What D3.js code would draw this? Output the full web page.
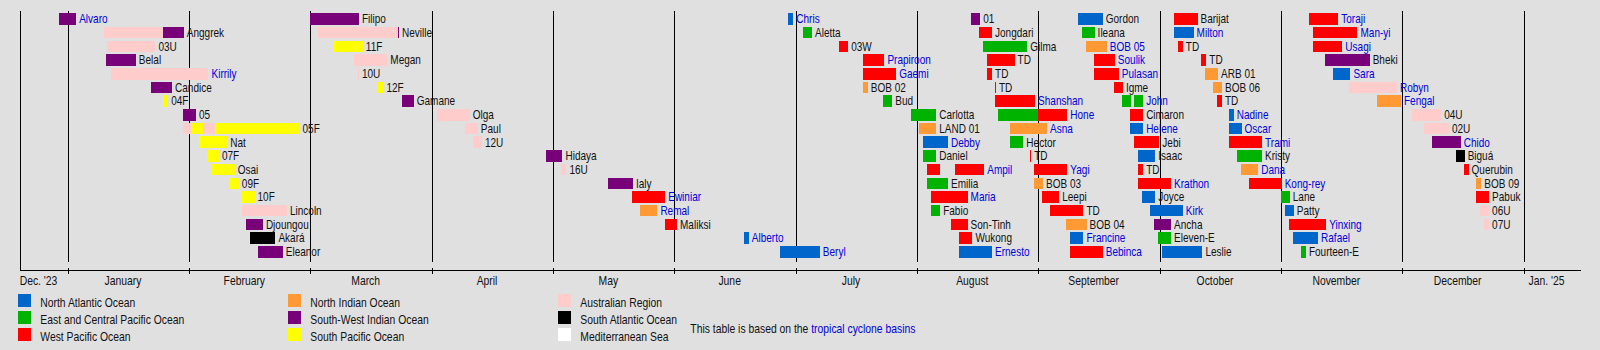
<!DOCTYPE html>
<html><head><meta charset="utf-8">
<script src="https://cdn.jsdelivr.net/npm/d3@7"></script>
<style>
html,body{margin:0;padding:0;background:#e0e0e0;}
svg{display:block;}
text{font-family:"Liberation Sans",Arial,Helvetica,sans-serif;}
</style></head><body>
<svg id="chart" width="1600" height="350"></svg>
<script>
// ---------------- data ----------------
const monthLabels = ["Dec. '23","January","February","March","April","May","June","July","August","September","October","November","December","Jan. '25"];
const periodStart = "2023-12-19 20";
const periodEnd = "2025-01-15 10";

const basinCodes = ["NA","EP","WP","NI","SWI","SP","AU","SA","MED"];
const basinNames = ["North Atlantic Ocean","East and Central Pacific Ocean","West Pacific Ocean","North Indian Ocean","South-West Indian Ocean","South Pacific Ocean","Australian Region","South Atlantic Ocean","Mediterranean Sea"];

const stormNames = [
"Alvaro","Anggrek","03U","Belal","Kirrily","Candice","04F","05","05F","Nat","07F","Osai","09F","10F","Lincoln","Djoungou","Akará","Eleanor",
"Filipo","Neville","11F","Megan","10U","12F","Gamane","Olga","Paul","12U","Hidaya","16U","Ialy","Ewiniar","Remal","Maliksi","Alberto","Beryl",
"Chris","Aletta","03W","Prapiroon","Gaemi","BOB 02","Bud","Carlotta","LAND 01","Debby","Daniel","Ampil","Emilia","Maria","Fabio","Son-Tinh","Wukong","Ernesto",
"01","Jongdari","Gilma","TD","TD","TD","Shanshan","Hone","Asna","Hector","TD","Yagi","BOB 03","Leepi","TD","BOB 04","Francine","Bebinca",
"Gordon","Ileana","BOB 05","Soulik","Pulasan","Igme","John","Cimaron","Helene","Jebi","Isaac","TD","Krathon","Joyce","Kirk","Ancha","Eleven-E","Leslie",
"Barijat","Milton","TD","TD","ARB 01","BOB 06","TD","Nadine","Oscar","Trami","Kristy","Dana","Kong-rey","Lane","Patty","Yinxing","Rafael","Fourteen-E",
"Toraji","Man-yi","Usagi","Bheki","Sara","Robyn","Fengal","04U","02U","Chido","Biguá","Querubin","BOB 09","Pabuk","06U","07U"];

// one list of [basin, from, till] segments per storm, same order as stormNames
const stormTracks = [
[["SWI","2023-12-29 12","2024-01-03"]],
[["AU","2024-01-10","2024-01-25 06"],["SWI","2024-01-25 06","2024-01-30 12"]],
[["AU","2024-01-11","2024-01-23 06"]],
[["SWI","2024-01-10 18","2024-01-18 06"]],
[["AU","2024-01-12","2024-02-05 12"]],
[["SWI","2024-01-22","2024-01-27 12"]],
[["SP","2024-01-25 06","2024-01-26 12"]],
[["SWI","2024-01-30 06","2024-02-02 12"]],
[["AU","2024-01-30 06","2024-02-01 06"],["SP","2024-02-01 06","2024-02-04 06"],["AU","2024-02-04 06","2024-02-07"],["SP","2024-02-07","2024-02-27 06"]],
[["SP","2024-02-03 06","2024-02-10"]],
[["SP","2024-02-05 06","2024-02-08"]],
[["SP","2024-02-06 06","2024-02-11 18"]],
[["SP","2024-02-10 18","2024-02-12 18"]],
[["SP","2024-02-13 12","2024-02-16 12"]],
[["AU","2024-02-13 12","2024-02-24 06"]],
[["SWI","2024-02-14 12","2024-02-18 12"]],
[["SA","2024-02-15 12","2024-02-21 12"]],
[["SWI","2024-02-17 06","2024-02-23 06"]],

[["SWI","2024-02-29 18","2024-03-13 06"]],
[["AU","2024-03-02 18","2024-03-23 06"],["SWI","2024-03-23 06","2024-03-23 12"]],
[["SP","2024-03-07","2024-03-14 06"]],
[["AU","2024-03-12","2024-03-20 12"]],
[["AU","2024-03-13","2024-03-13 06"]],
[["SP","2024-03-18","2024-03-19 12"]],
[["SWI","2024-03-24 06","2024-03-27 06"]],
[["AU","2024-04-02 06","2024-04-10 06"]],
[["AU","2024-04-09","2024-04-12 06"]],
[["AU","2024-04-11","2024-04-13 06"]],
[["SWI","2024-04-29","2024-05-03 06"]],
[["AU","2024-05-02 18","2024-05-04 06"]],
[["SWI","2024-05-15","2024-05-21 06"]],
[["WP","2024-05-21","2024-05-29 12"]],
[["NI","2024-05-23","2024-05-27 12"]],
[["WP","2024-05-29 12","2024-06-01 12"]],
[["NA","2024-06-18","2024-06-19 06"]],
[["NA","2024-06-27","2024-07-07"]],

[["NA","2024-06-29","2024-06-30 06"]],
[["EP","2024-07-02 18","2024-07-05"]],
[["WP","2024-07-12","2024-07-14 06"]],
[["WP","2024-07-18","2024-07-23 12"]],
[["WP","2024-07-18","2024-07-26 12"]],
[["NI","2024-07-18","2024-07-19 06"]],
[["EP","2024-07-23 06","2024-07-25 12"]],
[["EP","2024-07-30 06","2024-08-05 18"]],
[["NI","2024-08-01 06","2024-08-05 18"]],
[["NA","2024-08-02 06","2024-08-08 18"]],
[["EP","2024-08-02 06","2024-08-05 18"]],
[["WP","2024-08-03 12","2024-08-06 18"],["WP","2024-08-10 12","2024-08-18"]],
[["EP","2024-08-03 12","2024-08-08 18"]],
[["WP","2024-08-04 12","2024-08-13 18"]],
[["EP","2024-08-04 12","2024-08-06 18"]],
[["WP","2024-08-09 12","2024-08-13 18"]],
[["WP","2024-08-11 12","2024-08-15"]],
[["NA","2024-08-11 12","2024-08-20"]],

[["SWI","2024-08-14 18","2024-08-17"]],
[["WP","2024-08-16 18","2024-08-20"]],
[["EP","2024-08-17 18","2024-08-29"]],
[["WP","2024-08-18 18","2024-08-25 18"]],
[["WP","2024-08-18 18","2024-08-20"]],
[["WP","2024-08-20 18","2024-08-21"]],
[["WP","2024-08-20 18","2024-08-31"]],
[["EP","2024-08-21 12","2024-08-31 18"],["WP","2024-08-31 18","2024-09-08"]],
[["NI","2024-08-24 12","2024-09-03"]],
[["EP","2024-08-24 12","2024-08-28"]],
[["WP","2024-08-29 18","2024-08-30"]],
[["WP","2024-08-30 18","2024-09-08"]],
[["NI","2024-08-30 18","2024-09-02"]],
[["WP","2024-09-01 18","2024-09-06"]],
[["WP","2024-09-03 18","2024-09-12"]],
[["NI","2024-09-07 18","2024-09-12 18"]],
[["NA","2024-09-08 18","2024-09-12"]],
[["WP","2024-09-08 18","2024-09-16 18"]],

[["NA","2024-09-10 18","2024-09-16 18"]],
[["EP","2024-09-11 18","2024-09-14 18"]],
[["NI","2024-09-12 12","2024-09-17 18"]],
[["WP","2024-09-14 12","2024-09-19 18"]],
[["WP","2024-09-14 12","2024-09-20 18"]],
[["WP","2024-09-19 12","2024-09-21 18"]],
[["EP","2024-09-21 12","2024-09-23 18"],["EP","2024-09-24 12","2024-09-26 18"]],
[["WP","2024-09-23 12","2024-09-26 18"]],
[["NA","2024-09-23 12","2024-09-26 18"]],
[["WP","2024-09-24 12","2024-09-30 18"]],
[["NA","2024-09-25 12","2024-09-29 18"]],
[["WP","2024-09-25 12","2024-09-26 18"]],
[["WP","2024-09-25 12","2024-10-03 18"]],
[["NA","2024-09-26 12","2024-09-29 18"]],
[["NA","2024-09-28 12","2024-10-06 18"]],
[["SWI","2024-09-29 12","2024-10-03 18"]],
[["EP","2024-09-30 12","2024-10-03 18"]],
[["NA","2024-10-01 12","2024-10-11 18"]],

[["WP","2024-10-04 12","2024-10-10 12"]],
[["NA","2024-10-04 12","2024-10-09 12"]],
[["WP","2024-10-05 12","2024-10-06 18"]],
[["WP","2024-10-11 12","2024-10-12 18"]],
[["NI","2024-10-12 12","2024-10-15 18"]],
[["NI","2024-10-14 12","2024-10-16 18"]],
[["WP","2024-10-15 12","2024-10-16 18"]],
[["NA","2024-10-18 12","2024-10-19 18"]],
[["NA","2024-10-18 12","2024-10-21 18"]],
[["WP","2024-10-18 12","2024-10-27"]],
[["EP","2024-10-20 12","2024-10-27"]],
[["NI","2024-10-21 12","2024-10-26"]],
[["WP","2024-10-23 18","2024-11-01"]],
[["EP","2024-10-31 18","2024-11-03"]],
[["NA","2024-11-01 18","2024-11-04"]],
[["WP","2024-11-02 18","2024-11-12"]],
[["NA","2024-11-03 18","2024-11-10"]],
[["EP","2024-11-05 18","2024-11-07"]],

[["WP","2024-11-07 18","2024-11-15"]],
[["WP","2024-11-08 18","2024-11-19 18"]],
[["WP","2024-11-08 18","2024-11-16"]],
[["SWI","2024-11-11 18","2024-11-22 18"]],
[["NA","2024-11-13 18","2024-11-18"]],
[["AU","2024-11-17 18","2024-11-29 12"]],
[["NI","2024-11-24 12","2024-11-30 12"]],
[["AU","2024-12-03 06","2024-12-10 18"]],
[["AU","2024-12-06 06","2024-12-12 18"]],
[["SWI","2024-12-08 12","2024-12-15 18"]],
[["SA","2024-12-14 12","2024-12-16 18"]],
[["WP","2024-12-16 12","2024-12-17 18"]],
[["NI","2024-12-19 18","2024-12-21"]],
[["WP","2024-12-19 18","2024-12-23"]],
[["AU","2024-12-20 18","2024-12-23"]],
[["AU","2024-12-21 18","2024-12-23"]]
];

const linkedStorms = ["Alvaro","Kirrily","Ewiniar","Remal","Alberto","Beryl","Chris","Prapiroon","Gaemi","Debby","Ampil","Maria","Ernesto",
"Shanshan","Hone","Asna","Yagi","Francine","Bebinca","BOB 05","Soulik","Pulasan","John","Helene","Krathon","Kirk",
"Milton","Nadine","Oscar","Trami","Dana","Kong-rey","Yinxing","Rafael","Toraji","Man-yi","Usagi","Sara","Robyn","Fengal","Chido"];

const noteText = "This table is based on the ";
const noteLink = "tropical cyclone basins";

// ---------------- style / layout ----------------
const basinColors = {NA:"#0066cc",EP:"#00b300",WP:"#ff0000",NI:"#ff9933",SWI:"#780078",SP:"#ffff00",AU:"#ffcccc",SA:"#000000",MED:"#ffffff"};
const linkColor = "#0000dd";
const textColor = "#111";
const rowsPerColumn = 18;
const monthWidth = 121.333;
const firstMonthLeft = -53.0;
const labelSize = 12, labelScale = 0.835;
const axisSize = 12.5, axisScale = 0.83;

const parseDay = d3.utcParse("%Y-%m-%d");
const parseHour = d3.utcParse("%Y-%m-%d %H");
const parse = s => s.length > 10 ? parseHour(s) : parseDay(s);

const svg = d3.select("#chart");
svg.append("rect").attr("width",1600).attr("height",350).attr("fill","#e0e0e0");

const monthStarts = d3.utcMonth.range(new Date(Date.UTC(2023,11,1)), new Date(Date.UTC(2025,1,2)));
const x = d3.scaleTime()
  .domain(monthStarts)
  .range(monthStarts.map((d,i) => firstMonthLeft + i*monthWidth));

const pStart = parse(periodStart), pEnd = parse(periodEnd);
const xLeft = x(pStart), xRight = x(pEnd);

const y = d3.scaleBand().domain(d3.range(rowsPerColumn))
  .range([12.2, 258.6]).paddingInner(0.16).paddingOuter(0.08);

const axisY = 270.5;
const gridTop = 11, gridBottom = 262;
const crisp = v => Math.floor(v) + 0.5;

// grid lines
const gridMonths = monthStarts.filter(d => d > pStart && d < pEnd);
const grid = svg.append("g").attr("stroke","#000").attr("stroke-width",1).attr("shape-rendering","crispEdges");
grid.selectAll("line.g").data(gridMonths).join("line").attr("class","g")
  .attr("x1", d => crisp(x(d))).attr("x2", d => crisp(x(d)))
  .attr("y1", gridTop).attr("y2", gridBottom);
grid.append("line").attr("x1",crisp(xLeft)).attr("x2",crisp(xLeft)).attr("y1",gridTop).attr("y2",axisY);
grid.append("line").attr("x1",crisp(xLeft)).attr("x2",xRight).attr("y1",axisY).attr("y2",axisY);
grid.selectAll("line.t").data(gridMonths).join("line").attr("class","t")
  .attr("x1", d => crisp(x(d))).attr("x2", d => crisp(x(d)))
  .attr("y1", axisY-2.5).attr("y2", axisY+3);

// month labels
const labelMonths = monthStarts.slice(0, monthLabels.length);
svg.append("g").selectAll("text").data(labelMonths).join("text")
  .attr("transform", (d,i) => {
    const a = Math.max(x(d), xLeft), b = Math.min(x(d3.utcMonth.offset(d,1)), xRight);
    return `translate(${(a+b)/2 - 6},285) scale(${axisScale},1)`;
  })
  .attr("text-anchor","middle").attr("font-size",axisSize).attr("fill",textColor)
  .text((d,i) => monthLabels[i]);

// bars
const storms = stormNames.map((name,i) => ({
  name, row: i % rowsPerColumn,
  segs: stormTracks[i].map(s => ({basin:s[0], from:parse(s[1]), till:parse(s[2])}))
}));

const bars = svg.append("g").attr("shape-rendering","crispEdges");
storms.forEach(st => {
  bars.selectAll(null).data(st.segs).join("rect")
    .attr("x", d => x(d.from))
    .attr("width", d => Math.max(0.9, x(d.till) - x(d.from)))
    .attr("y", y(st.row)).attr("height", y.bandwidth())
    .attr("fill", d => basinColors[d.basin]);
});

// bar labels
const linkedSet = new Set(linkedStorms);
svg.append("g").selectAll("text").data(storms).join("text")
  .attr("transform", d => {
    const end = d3.max(d.segs, s => x(s.till));
    const cy = y(d.row) + y.bandwidth()/2 + labelSize*0.358;
    return `translate(${end + 3},${cy}) scale(${labelScale},1)`;
  })
  .attr("font-size", labelSize)
  .attr("fill", d => linkedSet.has(d.name) ? linkColor : textColor)
  .text(d => d.name);

// legend
const legend = svg.append("g");
const legendItems = basinCodes.map((c,k) => ({code:c, name:basinNames[k], col:Math.floor(k/3), row:k%3}));
const lg = legend.selectAll("g").data(legendItems).join("g")
  .attr("transform", d => `translate(${18 + d.col*270},${294 + d.row*17})`);
lg.append("rect").attr("width",13).attr("height",12.7).attr("fill", d => basinColors[d.code])
  .attr("shape-rendering","crispEdges");
lg.append("text").attr("transform",`translate(22.3,12.7) scale(${axisScale},1)`)
  .attr("font-size",axisSize).attr("fill",textColor).text(d => d.name);

const note = svg.append("text").attr("transform",`translate(690.3,333.3) scale(${axisScale},1)`)
  .attr("font-size",axisSize).attr("fill",textColor);
note.append("tspan").text(noteText);
note.append("tspan").attr("fill",linkColor).text(noteLink);
</script>
</body></html>
